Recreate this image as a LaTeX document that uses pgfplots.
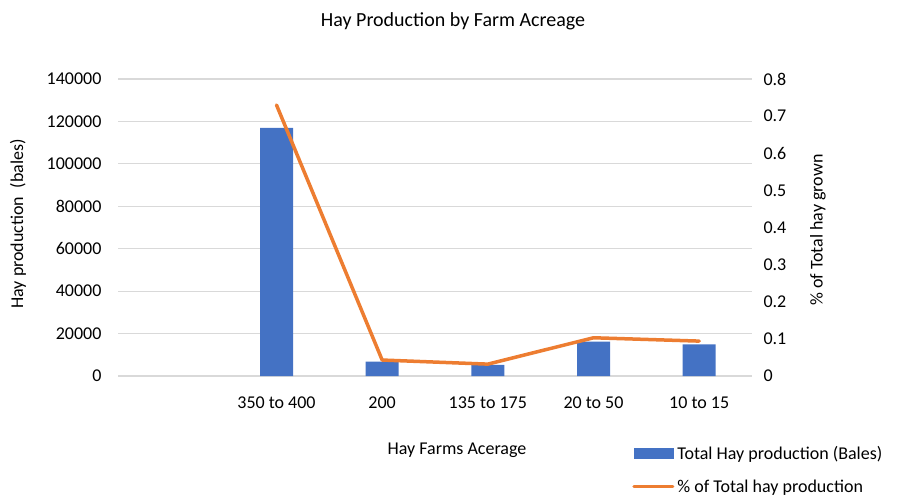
\documentclass[border=0pt]{standalone}
\usepackage{pgfplots}
\pgfplotsset{compat=1.18}
\usepackage{fontspec}
\setmainfont{Carlito}
\definecolor{barblue}{HTML}{4472C4}
\definecolor{lineorange}{HTML}{ED7D31}
\definecolor{gridgray}{HTML}{D9D9D9}
\newcommand{\tf}{\fontsize{18}{21}\selectfont}

\begin{document}
\begin{tikzpicture}[x=1pt,y=1pt]
\useasboundingbox (0,0) rectangle (899,499);

% bars, left axis
\begin{axis}[
  at={(118pt,123pt)}, anchor=south west,
  width=634pt, height=297pt, scale only axis,
  xmin=-0.5, xmax=5.5, ymin=0, ymax=140000,
  xtick={1,2,3,4,5},
  xticklabels={350 to 400,200,135 to 175,20 to 50,10 to 15},
  ytick={0,20000,40000,60000,80000,100000,120000,140000},
  scaled y ticks=false,
  ymajorgrids, grid style={gridgray, line width=1.2pt},
  axis line style={draw=none}, major tick style={draw=none},
  ticklabel style={font=\tf},
  /pgf/number format/assume math mode=true,
  /pgf/number format/fixed,
  /pgf/number format/1000 sep={},
  yticklabel style={xshift=-13pt},
  xticklabel style={yshift=-17pt},
]
\addplot[ybar, bar width=33pt, fill=barblue, draw=none]
  coordinates {(1,117000)(2,6800)(3,5200)(4,16200)(5,14900)};
\end{axis}

% line, right axis
\begin{axis}[
  at={(118pt,123pt)}, anchor=south west,
  width=634pt, height=297pt, scale only axis,
  xmin=-0.5, xmax=5.5, ymin=0, ymax=0.8,
  axis x line=none, axis y line*=right,
  ytick={0,0.1,0.2,0.3,0.4,0.5,0.6,0.7,0.8},
  axis line style={draw=none}, major tick style={draw=none},
  ticklabel style={font=\tf},
  /pgf/number format/assume math mode=true,
  /pgf/number format/fixed,
  yticklabel style={xshift=8pt},
  legend style={at={(0.811,-0.228)}, anchor=north west, draw=none, fill=none,
    font=\tf, row sep=15pt, inner xsep=0pt, inner ysep=0pt,
    nodes={inner xsep=3pt}},
  legend cell align=left,
]
\addlegendimage{legend image code/.code={\fill[barblue] (0pt,-5pt) rectangle (39pt,5pt);}}
\addlegendentry{Total Hay production (Bales)}
\addplot[lineorange, line width=3.5pt, line join=round, line cap=round,
  legend image code/.code={\draw[lineorange, line width=3pt] (0pt,0pt) -- (39pt,0pt);}]
  coordinates {(1,0.730)(2,0.043)(3,0.032)(4,0.103)(5,0.094)};
\addlegendentry{\% of Total hay production}
\end{axis}

\node[font=\fontsize{20}{24}\selectfont] at (453,478) {Hay Production by Farm Acreage};
\node[font=\tf] at (457,49) {Hay Farms Acerage};
\node[font=\tf, rotate=90] at (18,275) {Hay production\ \ (bales)};
\node[font=\tf, rotate=90] at (818,269) {\% of Total hay grown};
\end{tikzpicture}
\end{document}
